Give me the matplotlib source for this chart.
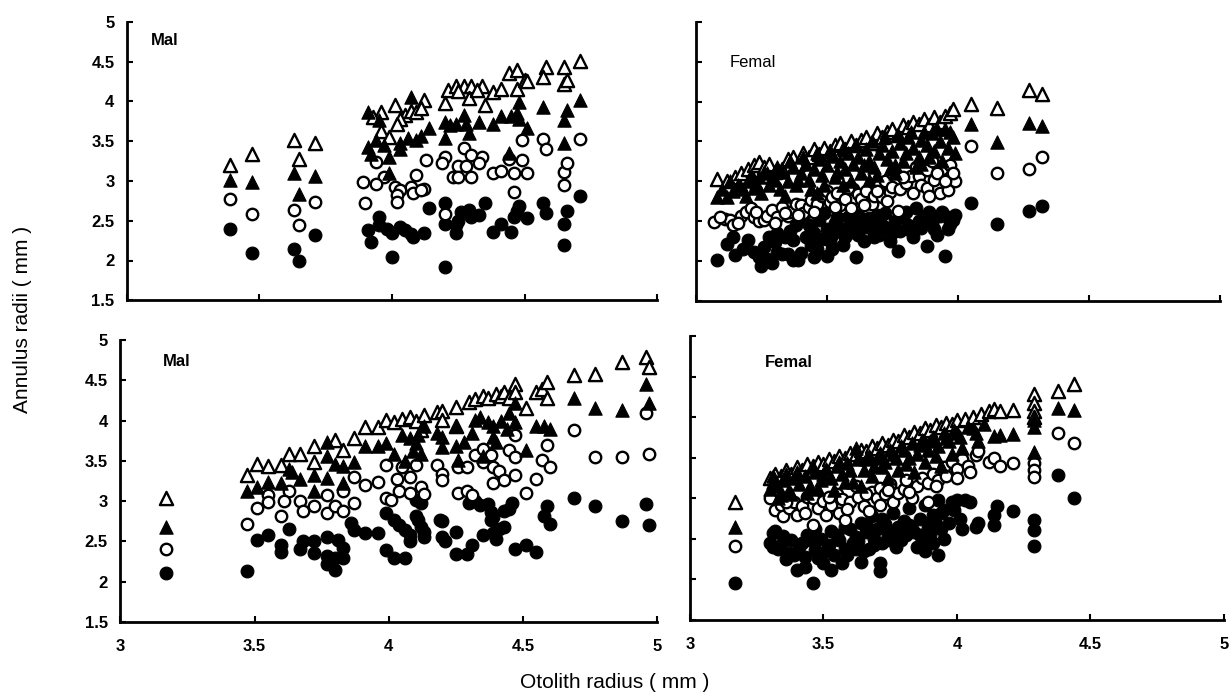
#!/usr/bin/env python3
"""
Back-calculated annulus radii against otolith radius, by sex, for two samples.
Ring 1..4 are drawn as filled circle, open circle, filled triangle, open triangle.
"""

import matplotlib.pyplot as plt

plt.rcParams["font.family"] = ["Liberation Sans Narrow", "Liberation Sans", "DejaVu Sans"]

# ---- upper row, males -------------------------------------------------------
m1_ring1_x = [3.39, 3.47, 3.63, 3.65, 3.71, 3.91, 3.92, 3.95, 3.95, 3.98, 4.00, 4.00, 4.03, 4.05,
              4.07, 4.08, 4.12, 4.14, 4.20, 4.20, 4.20, 4.24, 4.24, 4.25, 4.26, 4.29, 4.30, 4.33,
              4.35, 4.38, 4.41, 4.45, 4.46, 4.47, 4.48, 4.51, 4.57, 4.58, 4.65, 4.65, 4.66, 4.71]
m1_ring1_y = [2.40, 2.10, 2.14, 1.99, 2.32, 2.38, 2.23, 2.55, 2.45, 2.40, 2.35, 2.05, 2.42, 2.38,
              2.33, 2.30, 2.35, 2.66, 2.72, 2.46, 1.92, 2.34, 2.44, 2.50, 2.61, 2.63, 2.55, 2.57,
              2.72, 2.36, 2.46, 2.36, 2.55, 2.62, 2.69, 2.53, 2.72, 2.60, 2.46, 2.19, 2.62, 2.81]
m1_ring2_x = [3.39, 3.47, 3.63, 3.65, 3.71, 3.94, 3.89, 3.90, 3.97, 3.94, 4.01, 4.03, 4.02, 4.02,
              4.07, 4.09, 4.08, 4.12, 4.13, 4.11, 4.27, 4.30, 4.34, 4.20, 4.25, 4.28, 4.23, 4.25,
              4.30, 4.33, 4.38, 4.41, 4.44, 4.46, 4.49, 4.51, 4.49, 4.46, 4.57, 4.58, 4.65, 4.65,
              4.66, 4.71, 4.20, 4.19]
m1_ring2_y = [2.77, 2.58, 2.63, 2.45, 2.74, 3.24, 2.98, 2.72, 3.05, 2.96, 2.92, 2.88, 2.82, 2.74,
              2.92, 3.07, 2.85, 2.90, 3.26, 2.88, 3.41, 3.32, 3.30, 3.30, 3.19, 3.19, 3.05, 3.05,
              3.05, 3.22, 3.10, 3.12, 3.28, 3.10, 3.26, 3.10, 3.51, 2.86, 3.53, 3.40, 3.11, 2.95,
              3.23, 3.53, 2.59, 3.22]
m1_ring3_x = [3.39, 3.47, 3.63, 3.65, 3.71, 3.91, 3.91, 3.92, 3.95, 3.94, 3.97, 3.99, 3.99, 4.06,
              4.09, 4.14, 4.07, 4.03, 4.03, 4.11, 4.20, 4.20, 4.27, 4.29, 4.24, 4.28, 4.33, 4.38,
              4.41, 4.45, 4.48, 4.48, 4.51, 4.57, 4.65, 4.66, 4.71, 4.65, 4.44, 4.22, 4.47]
m1_ring3_y = [3.01, 2.98, 3.10, 2.83, 3.06, 3.87, 3.42, 3.34, 3.76, 3.51, 3.45, 3.30, 3.10, 3.54,
              3.51, 3.67, 4.05, 3.40, 3.48, 3.57, 3.74, 3.54, 3.83, 3.60, 3.72, 3.72, 3.74, 3.72,
              3.81, 3.81, 3.99, 3.78, 3.66, 3.93, 3.76, 3.89, 4.02, 3.47, 3.35, 3.70, 3.85]
m1_ring4_x = [3.39, 3.47, 3.63, 3.65, 3.71, 3.96, 4.01, 3.96, 4.05, 4.03, 4.12, 4.07, 4.09, 4.02,
              3.99, 3.93, 4.11, 4.21, 4.24, 4.27, 4.30, 4.34, 4.38, 4.41, 4.47, 4.44, 4.47, 4.50,
              4.51, 4.58, 4.57, 4.65, 4.65, 4.66, 4.71, 4.20, 4.35, 4.29, 4.25, 4.32]
m1_ring4_y = [3.20, 3.34, 3.52, 3.28, 3.47, 3.87, 3.95, 3.63, 3.83, 3.78, 4.02, 3.88, 3.86, 3.72,
              3.55, 3.80, 3.92, 4.14, 4.19, 4.19, 4.19, 4.19, 4.12, 4.16, 4.16, 4.35, 4.39, 4.27,
              4.25, 4.43, 4.31, 4.43, 4.22, 4.27, 4.51, 3.98, 3.95, 4.04, 4.13, 4.14]

# ---- upper row, females -----------------------------------------------------
f1_ring1_x = [3.08, 3.12, 3.14, 3.15, 3.18, 3.20, 3.22, 3.24, 3.25, 3.26, 3.27, 3.29, 3.30, 3.31,
              3.33, 3.35, 3.37, 3.39, 3.36, 3.37, 3.40, 3.42, 3.43, 3.44, 3.45, 3.47, 3.48, 3.50,
              3.50, 3.52, 3.53, 3.55, 3.56, 3.57, 3.58, 3.60, 3.61, 3.62, 3.63, 3.64, 3.66, 3.67,
              3.68, 3.70, 3.70, 3.72, 3.73, 3.74, 3.76, 3.77, 3.78, 3.79, 3.80, 3.81, 3.83, 3.84,
              3.85, 3.86, 3.88, 3.89, 3.90, 3.92, 3.93, 3.94, 3.95, 3.96, 3.97, 3.98, 3.99, 4.05,
              4.15, 4.27, 4.32, 3.34, 3.38, 3.41, 3.44, 3.46, 3.49, 3.51, 3.54, 3.56, 3.59, 3.62,
              3.65, 3.69, 3.71, 3.75, 3.78, 3.82, 3.87, 3.91, 3.96, 3.45, 3.52, 3.31, 3.28]
f1_ring1_y = [2.01, 2.22, 2.30, 2.08, 2.15, 2.26, 2.12, 2.05, 1.94, 2.18, 2.03, 1.98, 2.24, 2.12,
              2.09, 2.09, 2.02, 2.01, 2.38, 2.26, 2.10, 2.30, 2.45, 2.20, 2.35, 2.52, 2.28, 2.07,
              2.40, 2.33, 2.48, 2.42, 2.20, 2.30, 2.55, 2.37, 2.05, 2.33, 2.46, 2.25, 2.54, 2.40,
              2.30, 2.33, 2.50, 2.60, 2.42, 2.25, 2.50, 2.13, 2.38, 2.55, 2.62, 2.45, 2.30, 2.67,
              2.50, 2.42, 2.19, 2.62, 2.48, 2.33, 2.56, 2.62, 2.07, 2.40, 2.46, 2.52, 2.58, 2.73,
              2.47, 2.63, 2.69, 2.30, 2.45, 2.55, 2.40, 2.15, 2.60, 2.25, 2.55, 2.35, 2.45, 2.58,
              2.43, 2.58, 2.45, 2.35, 2.60, 2.38, 2.55, 2.40, 2.55, 2.05, 2.15, 2.35, 2.30]
f1_ring2_x = [3.07, 3.11, 3.13, 3.14, 3.17, 3.19, 3.21, 3.22, 3.24, 3.26, 3.27, 3.29, 3.31, 3.33,
              3.35, 3.36, 3.38, 3.40, 3.41, 3.43, 3.44, 3.46, 3.48, 3.50, 3.51, 3.52, 3.54, 3.55,
              3.57, 3.59, 3.60, 3.62, 3.63, 3.65, 3.67, 3.68, 3.70, 3.71, 3.72, 3.74, 3.75, 3.75,
              3.77, 3.78, 3.80, 3.82, 3.83, 3.85, 3.86, 3.88, 3.88, 3.90, 3.91, 3.93, 3.94, 3.96,
              3.97, 3.99, 4.05, 4.15, 4.27, 4.32, 3.09, 3.16, 3.23, 3.30, 3.34, 3.39, 3.45, 3.53,
              3.58, 3.64, 3.69, 3.73, 3.79, 3.84, 3.89, 3.92, 3.95, 3.98]
f1_ring2_y = [2.49, 2.53, 2.51, 2.45, 2.57, 2.62, 2.66, 2.55, 2.50, 2.52, 2.57, 2.64, 2.55, 2.68,
              2.56, 2.62, 2.71, 2.70, 2.60, 2.68, 2.76, 2.72, 2.82, 2.88, 2.74, 2.80, 2.85, 2.70,
              2.78, 2.66, 2.90, 2.84, 2.78, 2.88, 2.72, 2.82, 2.95, 2.80, 3.01, 2.86, 2.93, 3.10,
              2.63, 2.90, 2.98, 3.07, 2.85, 3.07, 2.95, 2.91, 3.14, 3.26, 3.02, 2.85, 3.15, 2.89,
              3.20, 3.01, 3.44, 3.10, 3.16, 3.30, 2.55, 2.48, 2.62, 2.48, 2.60, 2.58, 2.62, 2.68,
              2.92, 2.70, 2.88, 2.75, 3.05, 3.18, 2.82, 3.10, 3.00, 3.10]
f1_ring3_x = [3.08, 3.12, 3.14, 3.16, 3.18, 3.20, 3.22, 3.24, 3.25, 3.27, 3.28, 3.30, 3.32, 3.33,
              3.35, 3.37, 3.38, 3.40, 3.42, 3.43, 3.45, 3.47, 3.48, 3.50, 3.52, 3.53, 3.55, 3.57,
              3.58, 3.60, 3.62, 3.63, 3.65, 3.66, 3.68, 3.70, 3.71, 3.73, 3.75, 3.76, 3.78, 3.80,
              3.81, 3.83, 3.85, 3.86, 3.88, 3.90, 3.91, 3.93, 3.95, 3.96, 3.98, 4.05, 4.15, 4.27,
              4.32, 3.10, 3.13, 3.19, 3.21, 3.23, 3.26, 3.29, 3.31, 3.34, 3.36, 3.39, 3.41, 3.44,
              3.46, 3.49, 3.51, 3.54, 3.56, 3.59, 3.61, 3.64, 3.67, 3.69, 3.72, 3.74, 3.77, 3.79,
              3.82, 3.84, 3.87, 3.89, 3.92, 3.94, 3.97, 3.99, 3.46, 3.56, 3.66, 3.76, 3.86]
f1_ring3_y = [2.80, 2.80, 2.88, 2.95, 2.90, 3.00, 2.92, 3.05, 2.85, 3.10, 2.95, 3.02, 2.90, 3.12,
              3.00, 3.18, 2.95, 3.10, 3.22, 3.02, 3.15, 3.28, 3.08, 3.20, 3.32, 3.05, 3.25, 3.15,
              3.36, 3.22, 3.30, 3.10, 3.40, 3.25, 3.18, 3.35, 3.45, 3.28, 3.38, 3.20, 3.48, 3.35,
              3.55, 3.42, 3.30, 3.52, 3.45, 3.60, 3.38, 3.50, 3.65, 3.42, 3.55, 3.72, 3.49, 3.73,
              3.69, 2.90, 3.00, 2.82, 3.08, 2.98, 3.12, 3.05, 3.18, 2.82, 3.25, 3.02, 3.30, 2.90,
              3.35, 2.95, 3.38, 3.12, 3.42, 3.00, 3.45, 3.20, 3.50, 3.08, 3.55, 3.15, 3.58, 3.25,
              3.62, 3.18, 3.62, 3.30, 3.66, 3.25, 3.62, 3.35, 2.85, 2.95, 3.02, 3.10, 3.22]
f1_ring4_x = [3.08, 3.12, 3.15, 3.17, 3.20, 3.22, 3.24, 3.26, 3.28, 3.30, 3.33, 3.35, 3.37, 3.39,
              3.41, 3.43, 3.45, 3.47, 3.49, 3.51, 3.53, 3.55, 3.57, 3.59, 3.61, 3.63, 3.65, 3.67,
              3.69, 3.71, 3.73, 3.75, 3.77, 3.79, 3.81, 3.83, 3.85, 3.87, 3.89, 3.91, 3.93, 3.95,
              3.97, 3.98, 4.05, 4.15, 4.27, 4.32]
f1_ring4_y = [3.03, 3.00, 3.06, 3.10, 3.15, 3.20, 3.24, 3.18, 3.22, 3.12, 3.16, 3.28, 3.30, 3.22,
              3.35, 3.30, 3.40, 3.34, 3.42, 3.38, 3.45, 3.48, 3.40, 3.50, 3.46, 3.52, 3.55, 3.48,
              3.60, 3.56, 3.62, 3.65, 3.58, 3.70, 3.68, 3.74, 3.72, 3.78, 3.70, 3.80, 3.74, 3.82,
              3.86, 3.90, 3.97, 3.92, 4.15, 4.09]

# ---- lower row, males -------------------------------------------------------
m2_ring1_x = [3.17, 3.47, 3.51, 3.55, 3.60, 3.60, 3.63, 3.67, 3.68, 3.72, 3.72, 3.77, 3.77, 3.77,
              3.80, 3.80, 3.81, 3.83, 3.83, 3.86, 3.87, 3.91, 3.96, 3.99, 3.99, 4.02, 4.06, 4.02,
              4.04, 4.06, 4.08, 4.08, 4.10, 4.11, 4.12, 4.13, 4.13, 4.10, 4.12, 4.19, 4.20, 4.20,
              4.21, 4.25, 4.25, 4.29, 4.31, 4.30, 4.32, 4.34, 4.37, 4.38, 4.39, 4.38, 4.45, 4.43,
              4.46, 4.39, 4.41, 4.43, 4.35, 4.40, 4.47, 4.51, 4.55, 4.58, 4.59, 4.60, 4.69, 4.77,
              4.87, 4.96, 4.97]
m2_ring1_y = [2.11, 2.13, 2.52, 2.58, 2.37, 2.45, 2.65, 2.40, 2.50, 2.50, 2.36, 2.55, 2.32, 2.22,
              2.15, 2.30, 2.52, 2.42, 2.29, 2.73, 2.64, 2.60, 2.60, 2.85, 2.39, 2.29, 2.29, 2.77,
              2.70, 2.64, 2.50, 2.58, 2.81, 2.76, 2.68, 2.62, 2.55, 3.02, 2.98, 2.77, 2.75, 2.56,
              2.50, 2.62, 2.35, 2.35, 2.45, 2.98, 3.00, 2.95, 2.96, 2.86, 2.80, 2.76, 2.90, 2.88,
              2.98, 2.61, 2.66, 2.68, 2.58, 2.53, 2.40, 2.45, 2.37, 2.82, 2.94, 2.72, 3.04, 2.94,
              2.75, 2.97, 2.70]
m2_ring2_x = [3.17, 3.47, 3.51, 3.55, 3.55, 3.60, 3.63, 3.61, 3.67, 3.68, 3.72, 3.77, 3.77, 3.80,
              3.83, 3.83, 3.87, 3.87, 3.91, 3.96, 3.99, 3.99, 4.03, 4.05, 4.08, 4.10, 4.04, 4.08,
              4.12, 4.13, 4.01, 4.18, 4.20, 4.20, 4.26, 4.26, 4.29, 4.31, 4.29, 4.32, 4.35, 4.35,
              4.38, 4.39, 4.39, 4.41, 4.43, 4.45, 4.47, 4.47, 4.47, 4.51, 4.55, 4.57, 4.59, 4.60,
              4.69, 4.77, 4.87, 4.97, 4.96]
m2_ring2_y = [2.40, 2.72, 2.92, 3.08, 2.99, 2.81, 3.13, 3.00, 3.00, 2.88, 2.94, 3.08, 2.85, 2.94,
              3.12, 2.88, 3.30, 2.98, 3.20, 3.24, 3.45, 3.04, 3.28, 3.43, 3.30, 3.45, 3.13, 3.10,
              3.17, 3.09, 3.02, 3.45, 3.34, 3.26, 3.43, 3.10, 3.12, 3.08, 3.43, 3.57, 3.65, 3.49,
              3.57, 3.43, 3.22, 3.37, 3.26, 3.63, 3.82, 3.55, 3.32, 3.10, 3.27, 3.51, 3.70, 3.43,
              3.88, 3.55, 3.55, 3.59, 4.09]
m2_ring3_x = [3.17, 3.47, 3.51, 3.55, 3.60, 3.63, 3.64, 3.67, 3.72, 3.72, 3.77, 3.77, 3.77, 3.80,
              3.83, 3.83, 3.87, 3.91, 3.96, 3.99, 4.02, 4.05, 4.08, 4.10, 4.11, 4.13, 4.12, 4.09,
              4.06, 4.18, 4.20, 4.20, 4.25, 4.25, 4.26, 4.28, 4.31, 4.32, 4.34, 4.37, 4.39, 4.39,
              4.40, 4.42, 4.44, 4.45, 4.47, 4.47, 4.51, 4.55, 4.58, 4.60, 4.35, 4.69, 4.77, 4.87,
              4.96, 4.97]
m2_ring3_y = [2.68, 3.13, 3.18, 3.24, 3.22, 3.40, 3.36, 3.27, 3.33, 3.12, 3.74, 3.56, 3.29, 3.46,
              3.44, 3.22, 3.48, 3.68, 3.68, 3.72, 3.58, 3.82, 3.78, 3.72, 3.82, 3.93, 3.58, 3.62,
              3.50, 3.84, 3.79, 3.67, 3.93, 3.68, 3.51, 3.74, 3.84, 4.01, 4.05, 3.98, 3.93, 3.79,
              3.73, 4.00, 3.90, 4.10, 4.22, 3.98, 3.63, 3.93, 3.93, 3.89, 3.56, 4.28, 4.15, 4.13,
              4.46, 4.22]
m2_ring4_x = [3.17, 3.47, 3.51, 3.55, 3.60, 3.63, 3.67, 3.72, 3.72, 3.80, 3.83, 3.87, 3.91, 3.96,
              3.99, 4.02, 4.05, 4.08, 4.10, 4.13, 4.18, 4.20, 4.20, 4.25, 4.30, 4.32, 4.35, 4.37,
              4.40, 4.42, 4.43, 4.45, 4.47, 4.47, 4.51, 4.55, 4.57, 4.59, 4.59, 4.25, 4.12, 4.69,
              4.77, 4.87, 4.96, 4.97]
m2_ring4_y = [3.04, 3.33, 3.46, 3.44, 3.45, 3.59, 3.59, 3.68, 3.49, 3.76, 3.63, 3.78, 3.92, 3.92,
              4.01, 3.98, 4.02, 4.05, 4.00, 4.07, 4.11, 4.12, 4.01, 4.17, 4.23, 4.27, 4.30, 4.28,
              4.33, 4.30, 4.36, 4.28, 4.46, 4.35, 4.16, 4.35, 4.39, 4.48, 4.28, 3.93, 3.88, 4.57,
              4.58, 4.73, 4.79, 4.67]

# ---- lower row, females -----------------------------------------------------
f2_ring1_x = [3.17, 3.30, 3.32, 3.33, 3.35, 3.36, 3.37, 3.38, 3.40, 3.41, 3.42, 3.43, 3.44, 3.46,
              3.47, 3.48, 3.49, 3.50, 3.52, 3.53, 3.54, 3.56, 3.57, 3.58, 3.59, 3.60, 3.61, 3.62,
              3.63, 3.64, 3.65, 3.66, 3.67, 3.68, 3.69, 3.70, 3.71, 3.71, 3.72, 3.73, 3.74, 3.75,
              3.76, 3.77, 3.78, 3.79, 3.80, 3.81, 3.82, 3.83, 3.84, 3.85, 3.86, 3.87, 3.88, 3.89,
              3.90, 3.91, 3.92, 3.93, 3.94, 3.95, 3.97, 3.98, 4.00, 4.02, 4.03, 4.05, 4.07, 4.08,
              4.14, 4.14, 4.15, 4.21, 4.29, 4.29, 4.29, 4.38, 4.44, 3.88, 3.91, 3.93, 3.95, 3.31,
              3.31, 3.34, 3.39, 3.45, 3.51, 3.55, 3.58, 3.62, 3.66, 3.69, 3.72, 3.75, 3.79, 3.82,
              3.86, 3.90, 3.94, 3.99, 4.01, 3.43, 3.53, 3.47, 3.64]
f2_ring1_y = [1.95, 2.45, 2.60, 2.38, 2.53, 2.25, 2.33, 2.48, 2.12, 2.40, 2.45, 2.28, 2.55, 1.95,
              2.36, 2.27, 2.50, 2.20, 2.42, 2.60, 2.30, 2.48, 2.20, 2.38, 2.30, 2.62, 2.45, 2.52,
              2.47, 2.70, 2.35, 2.58, 2.37, 2.78, 2.50, 2.62, 2.20, 2.10, 2.45, 2.68, 2.55, 2.60,
              2.82, 2.40, 2.65, 2.48, 2.72, 2.55, 2.88, 2.62, 2.59, 2.40, 2.75, 2.47, 2.92, 2.63,
              2.55, 2.80, 2.68, 2.98, 2.62, 2.85, 2.70, 2.95, 2.98, 2.62, 2.98, 2.95, 2.65, 2.70,
              2.67, 2.80, 2.90, 2.84, 2.73, 2.61, 2.41, 3.29, 3.00, 2.35, 2.45, 2.30, 2.50, 2.40,
              2.57, 2.42, 2.30, 2.48, 2.35, 2.55, 2.65, 2.38, 2.68, 2.42, 2.75, 2.48, 2.58, 2.67,
              2.55, 2.70, 2.82, 2.85, 2.75, 2.15, 2.12, 2.62, 2.22]
f2_ring2_x = [3.17, 3.30, 3.32, 3.34, 3.35, 3.37, 3.39, 3.40, 3.42, 3.44, 3.46, 3.46, 3.48, 3.50,
              3.51, 3.53, 3.55, 3.56, 3.58, 3.57, 3.60, 3.62, 3.63, 3.65, 3.67, 3.68, 3.70, 3.71,
              3.71, 3.73, 3.75, 3.76, 3.78, 3.80, 3.81, 3.83, 3.85, 3.87, 3.89, 3.89, 3.91, 3.93,
              3.95, 3.96, 3.98, 4.00, 4.02, 4.04, 4.07, 4.08, 4.12, 4.14, 4.16, 4.21, 4.29, 4.29,
              4.29, 4.38, 4.44, 3.36, 3.43, 3.52, 3.59, 3.66, 3.74, 3.82, 3.92, 4.00, 4.05]
f2_ring2_y = [2.41, 3.00, 2.85, 2.92, 2.78, 2.88, 2.95, 2.80, 2.90, 3.02, 2.67, 3.00, 2.88, 2.97,
              2.80, 2.92, 3.05, 2.82, 2.73, 2.99, 2.95, 3.15, 3.02, 2.90, 2.84, 3.08, 3.00, 3.13,
              2.92, 3.05, 3.18, 2.96, 3.06, 3.12, 3.22, 3.00, 3.15, 3.25, 3.19, 2.96, 3.30, 3.22,
              3.38, 3.28, 3.45, 3.36, 3.48, 3.40, 3.53, 3.58, 3.45, 3.50, 3.40, 3.44, 3.43, 3.35,
              3.26, 3.81, 3.68, 2.95, 2.82, 3.02, 2.87, 3.05, 3.10, 3.08, 3.15, 3.25, 3.32]
f2_ring3_x = [3.17, 3.30, 3.31, 3.33, 3.35, 3.37, 3.39, 3.41, 3.43, 3.45, 3.47, 3.49, 3.51, 3.53,
              3.55, 3.57, 3.59, 3.61, 3.63, 3.65, 3.67, 3.69, 3.71, 3.73, 3.75, 3.77, 3.79, 3.81,
              3.83, 3.85, 3.87, 3.89, 3.91, 3.93, 3.95, 3.97, 3.99, 4.01, 4.04, 4.07, 4.10, 4.14,
              4.16, 4.21, 4.29, 4.29, 4.29, 4.38, 4.44, 3.34, 3.44, 3.54, 3.64, 3.74, 3.84, 3.94,
              3.31, 3.36, 3.40, 3.46, 3.50, 3.56, 3.60, 3.66, 3.70, 3.76, 3.80, 3.86, 3.90, 3.96,
              4.00, 4.06, 3.38, 3.48, 3.58, 3.68, 3.78, 3.88, 3.98, 4.08, 3.33, 3.62, 3.72, 3.82,
              3.92, 4.02]
f2_ring3_y = [2.64, 3.12, 3.20, 3.15, 3.22, 3.10, 3.25, 3.18, 3.28, 3.15, 3.32, 3.22, 3.36, 3.25,
              3.40, 3.30, 3.44, 3.20, 3.48, 3.35, 3.52, 3.40, 3.56, 3.45, 3.60, 3.50, 3.64, 3.42,
              3.68, 3.55, 3.72, 3.60, 3.76, 3.65, 3.80, 3.70, 3.84, 3.75, 3.88, 3.80, 3.92, 3.77,
              3.78, 3.79, 3.96, 3.88, 3.57, 4.11, 4.09, 3.04, 3.06, 3.10, 3.15, 3.25, 3.32, 3.40,
              3.28, 3.30, 3.33, 3.38, 3.30, 3.45, 3.35, 3.48, 3.50, 3.55, 3.60, 3.66, 3.70, 3.74,
              3.80, 3.86, 3.05, 3.12, 3.20, 3.28, 3.35, 3.45, 3.55, 3.70, 3.00, 3.62, 3.38, 3.50,
              3.52, 3.62]
f2_ring4_x = [3.17, 3.30, 3.32, 3.34, 3.36, 3.38, 3.40, 3.42, 3.44, 3.46, 3.48, 3.50, 3.52, 3.54,
              3.56, 3.58, 3.60, 3.62, 3.64, 3.66, 3.68, 3.70, 3.72, 3.74, 3.76, 3.78, 3.80, 3.82,
              3.84, 3.86, 3.88, 3.90, 3.92, 3.94, 3.96, 3.98, 4.00, 4.03, 4.06, 4.09, 4.12, 4.14,
              4.16, 4.21, 4.29, 4.29, 4.29, 4.29, 4.38, 4.44]
f2_ring4_y = [2.96, 3.25, 3.30, 3.28, 3.35, 3.30, 3.38, 3.35, 3.42, 3.40, 3.45, 3.42, 3.48, 3.46,
              3.52, 3.50, 3.56, 3.55, 3.60, 3.58, 3.64, 3.62, 3.68, 3.66, 3.72, 3.70, 3.78, 3.75,
              3.82, 3.80, 3.86, 3.84, 3.90, 3.88, 3.93, 3.92, 3.96, 3.98, 4.00, 4.04, 4.08, 4.10,
              4.08, 4.09, 4.28, 4.18, 4.08, 4.00, 4.32, 4.41]

x_ticks = [3, 3.5, 4, 4.5, 5]
x_tick_labels = ["3", "3.5", "4", "4.5", "5"]
y_ticks = [1.5, 2, 2.5, 3, 3.5, 4, 4.5, 5]
y_tick_labels = ["1.5", "2", "2.5", "3", "3.5", "4", "4.5", "5"]


def draw_panel(ax, rings, label, label_xy, label_bold, show_x, show_y):
    """Scatter the four annulus series and style one panel."""
    (r1x, r1y), (r2x, r2y), (r3x, r3y), (r4x, r4y) = rings

    # filled markers go on top so the crowded bands read as solid black
    ax.scatter(r1x, r1y, s=85, marker="o", facecolor="black", edgecolor="black",
               linewidths=0.8, zorder=2)
    ax.scatter(r2x, r2y, s=68, marker="o", facecolor="white", edgecolor="black",
               linewidths=1.7, zorder=3)
    ax.scatter(r4x, r4y, s=90, marker="^", facecolor="white", edgecolor="black",
               linewidths=1.7, zorder=4)
    ax.scatter(r3x, r3y, s=92, marker="^", facecolor="black", edgecolor="black",
               linewidths=0.8, zorder=5)

    ax.set_xlim(3, 5)
    ax.set_ylim(1.5, 5)
    for side in ("top", "right"):
        ax.spines[side].set_visible(False)
    for side in ("left", "bottom"):
        ax.spines[side].set_linewidth(2.0)
    ax.tick_params(direction="in", length=4, width=1.5)
    ax.tick_params(axis="x", pad=12)
    ax.tick_params(axis="y", pad=9)

    ax.set_xticks(x_ticks)
    ax.set_yticks(y_ticks)
    if show_x:
        ax.set_xticklabels(x_tick_labels, fontsize=12, fontweight="bold")
    else:
        ax.set_xticklabels([])
    if show_y:
        ax.set_yticklabels(y_tick_labels, fontsize=12, fontweight="bold")
    else:
        ax.set_yticklabels([])

    ax.text(label_xy[0], label_xy[1], label, fontsize=12,
            fontweight="bold" if label_bold else "normal", va="center", ha="left")


def main():
    fig = plt.figure(figsize=(12.29, 7.0), dpi=100)

    ax_tl = fig.add_axes([0.1033, 0.571, 0.4313, 0.398])
    ax_tr = fig.add_axes([0.5663, 0.570, 0.4264, 0.399])
    ax_bl = fig.add_axes([0.0980, 0.1114, 0.4366, 0.4029])
    ax_br = fig.add_axes([0.5614, 0.1143, 0.4345, 0.4057])

    draw_panel(ax_tl, [(m1_ring1_x, m1_ring1_y), (m1_ring2_x, m1_ring2_y),
                       (m1_ring3_x, m1_ring3_y), (m1_ring4_x, m1_ring4_y)],
               "Mal", (3.09, 4.76), True, False, True)
    draw_panel(ax_tr, [(f1_ring1_x, f1_ring1_y), (f1_ring2_x, f1_ring2_y),
                       (f1_ring3_x, f1_ring3_y), (f1_ring4_x, f1_ring4_y)],
               "Femal", (3.13, 4.49), False, False, False)
    draw_panel(ax_bl, [(m2_ring1_x, m2_ring1_y), (m2_ring2_x, m2_ring2_y),
                       (m2_ring3_x, m2_ring3_y), (m2_ring4_x, m2_ring4_y)],
               "Mal", (3.16, 4.73), True, True, True)
    draw_panel(ax_br, [(f2_ring1_x, f2_ring1_y), (f2_ring2_x, f2_ring2_y),
                       (f2_ring3_x, f2_ring3_y), (f2_ring4_x, f2_ring4_y)],
               "Femal", (3.28, 4.67), True, True, False)

    fig.text(0.018, 0.543, "Annulus radii ( mm )", rotation=90, fontsize=15,
             va="center", ha="center")
    fig.text(0.50, 0.025, "Otolith radius ( mm )", fontsize=15,
             va="center", ha="center")

    fig.savefig("out.png", dpi=100)


if __name__ == "__main__":
    main()
